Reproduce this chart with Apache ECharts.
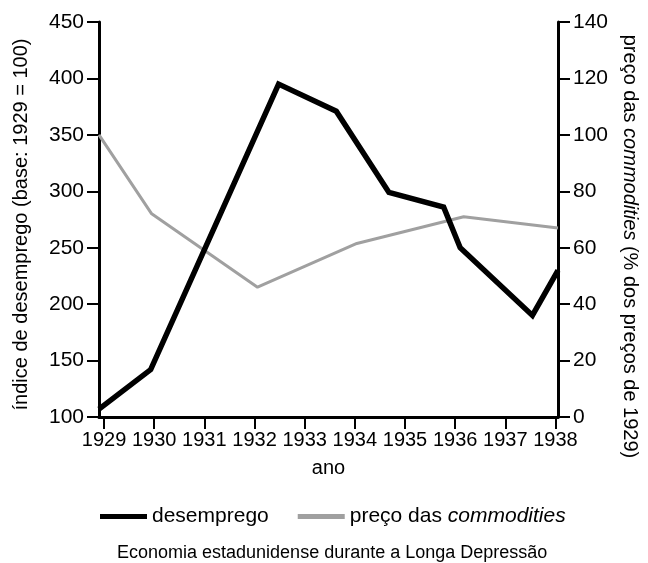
<!DOCTYPE html>
<html>
<head>
<meta charset="utf-8">
<script src="https://cdn.jsdelivr.net/npm/echarts@6/dist/echarts.min.js"></script>
<style>
  html, body { margin: 0; padding: 0; background: #fff; }
  #main { width: 648px; height: 563px; }
</style>
</head>
<body>
<div id="main"></div>
<script>
// anos (posição no eixo x) e valores
var yearTicks = [1929, 1930, 1931, 1932, 1933, 1934, 1935, 1936, 1937, 1938]
var unempYears = [1928.9, 1929.93, 1932.48, 1933.63, 1934.68, 1935.77, 1936.1, 1937.54, 1938.05]
var unempValues = [107, 142, 395, 371, 299, 286, 250, 190, 230]
var priceYears = [1928.9, 1929.95, 1932.06, 1934.04, 1936.17, 1938.05]
var priceValues = [100, 72, 46, 61.5, 71, 67]

function pairs (xs, ys) {
  return xs.map(function (x, i) { return [x, ys[i]] })
}

var font = 'Liberation Sans, Arial, sans-serif'
var chart = echarts.init(document.getElementById('main'))

var axisLine = { show: true, lineStyle: { color: '#000', width: 3 } }
var axisTick = { show: true, length: 12, lineStyle: { color: '#000', width: 2 } }
var labelStyle = { color: '#000', fontSize: 21, fontFamily: font }
function richOf (size) {
  return {
    n: { fontSize: size, color: '#000', fontFamily: font },
    i: { fontSize: size, color: '#000', fontStyle: 'italic', fontFamily: font }
  }
}

chart.setOption({
  animation: false,
  textStyle: { fontFamily: font },
  title: {
    text: 'Economia estadunidense durante a Longa Depressão',
    left: 117,
    top: 544,
    padding: 0,
    textStyle: { color: '#000', fontSize: 18, fontWeight: 'normal', fontFamily: font }
  },
  legend: {
    top: 501,
    left: 95,
    itemGap: 29,
    itemWidth: 47,
    itemHeight: 5,
    data: [
      { name: 'desemprego', icon: 'rect' },
      { name: 'preço das commodities', icon: 'rect', itemStyle: { color: '#a0a0a0' } }
    ],
    formatter: function (name) {
      if (name === 'desemprego') return '{n|desemprego}'
      return '{n|preço das }{i|commodities}'
    },
    textStyle: { color: '#000', fontSize: 21, rich: richOf(21) }
  },
  grid: { left: 99, right: 88, top: 22, bottom: 146 },
  xAxis: {
    type: 'value',
    min: 1928.9,
    max: 1938.05,
    name: 'ano',
    nameLocation: 'middle',
    nameGap: 41,
    nameTextStyle: { color: '#000', fontSize: 20, fontFamily: font },
    axisLine: axisLine,
    axisTick: Object.assign({ customValues: yearTicks }, axisTick),
    axisLabel: Object.assign({ customValues: yearTicks, margin: 13, formatter: function (v) { return String(Math.round(v)) } }, labelStyle, { fontSize: 20 }),
    splitLine: { show: false }
  },
  yAxis: [
    {
      type: 'value',
      min: 100,
      max: 450,
      interval: 50,
      name: 'índice de desemprego (base: 1929 = 100)',
      nameLocation: 'middle',
      nameGap: 68,
      nameTextStyle: { color: '#000', fontSize: 20, fontFamily: font, padding: [0, 10, 0, 0] },
      axisLine: axisLine,
      axisTick: axisTick,
      axisLabel: Object.assign({ margin: 15 }, labelStyle),
      splitLine: { show: false }
    },
    {
      type: 'value',
      min: 0,
      max: 140,
      interval: 20,
      position: 'right',
      name: '{n|preço das }{i|commodities}{n| (% dos preços de 1929)}',
      nameLocation: 'middle',
      nameGap: 62,
      nameRotate: -90,
      nameTextStyle: { color: '#000', fontSize: 20, padding: [0, 0, 0, 54], rich: richOf(20) },
      axisLine: axisLine,
      axisTick: axisTick,
      axisLabel: Object.assign({ margin: 15 }, labelStyle),
      splitLine: { show: false }
    }
  ],
  series: [
    {
      name: 'preço das commodities',
      type: 'line',
      yAxisIndex: 1,
      data: pairs(priceYears, priceValues),
      symbol: 'none',
      lineStyle: { color: '#a0a0a0', width: 3 },
      itemStyle: { color: '#a0a0a0' },
      z: 2
    },
    {
      name: 'desemprego',
      type: 'line',
      yAxisIndex: 0,
      data: pairs(unempYears, unempValues),
      symbol: 'none',
      lineStyle: { color: '#000', width: 5.5, join: 'miter' },
      itemStyle: { color: '#000' },
      z: 3
    }
  ]
})
</script>
</body>
</html>
